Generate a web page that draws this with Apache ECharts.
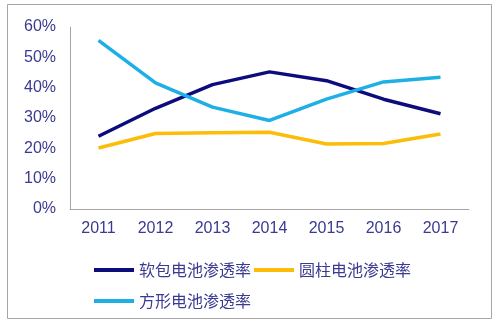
<!DOCTYPE html>
<html>
<head>
<meta charset="utf-8">
<script src="https://cdn.jsdelivr.net/npm/echarts@6/dist/echarts.min.js"></script>
<style>html,body{margin:0;padding:0;background:#fff;}#c{width:500px;height:332px;}</style>
</head>
<body>
<div id="c"></div>
<script>
const years = ['2011','2012','2013','2014','2015','2016','2017'];
const softPack = [24.0, 33.2, 41.0, 45.2, 42.3, 36.2, 31.4];
const cylinder = [20.1, 24.9, 25.1, 25.3, 21.4, 21.6, 24.7];
const prismatic = [55.6, 41.6, 33.6, 29.2, 36.2, 41.9, 43.4];
const seriesNames = ['软包电池渗透率', '圆柱电池渗透率', '方形电池渗透率'];
const yTicks = { min: 0, max: 60, interval: 10 };

const textColor = '#3a3a90';
const chart = echarts.init(document.getElementById('c'));
const mk = (name, data, color) => ({
  name, type: 'line', data, symbol: 'none', smooth: false,
  lineStyle: { width: 3.5, color }, itemStyle: { color }
});
chart.setOption({
  animation: false,
  graphic: [{
    type: 'rect', shape: { x: 7.5, y: 4.5, width: 484, height: 314 },
    style: { fill: 'none', stroke: '#a6a6a6', lineWidth: 1 }, z: -1
  }],
  grid: { left: 70, right: 31, top: 27, bottom: 123, containLabel: false },
  xAxis: {
    type: 'category', data: years, boundaryGap: true,
    axisLine: { lineStyle: { color: '#a6a6a6', width: 1 } },
    axisTick: { show: false },
    axisLabel: { color: textColor, fontSize: 16, fontFamily: 'Liberation Sans, Arial', margin: 12 }
  },
  yAxis: {
    type: 'value', min: yTicks.min, max: yTicks.max, interval: yTicks.interval,
    axisLine: { show: true, lineStyle: { color: '#a6a6a6', width: 1 } },
    axisTick: { show: false },
    splitLine: { show: false },
    axisLabel: { color: textColor, fontSize: 16, fontFamily: 'Liberation Sans, Arial', margin: 14, formatter: '{value}%' }
  },
  legend: [{
    data: [seriesNames[0], seriesNames[1]], left: 89, top: 257, itemGap: 3,
    icon: 'rect', itemWidth: 40, itemHeight: 4,
    textStyle: { color: textColor, fontSize: 16, fontFamily: 'Noto Sans CJK SC' }
  }, {
    data: [seriesNames[2]], left: 89, top: 288,
    icon: 'rect', itemWidth: 40, itemHeight: 4,
    textStyle: { color: textColor, fontSize: 16, fontFamily: 'Noto Sans CJK SC' }
  }],
  series: [
    mk(seriesNames[0], softPack, '#0c0c7c'),
    mk(seriesNames[1], cylinder, '#fbbd08'),
    mk(seriesNames[2], prismatic, '#1eb0e4')
  ]
});
</script>
</body>
</html>
